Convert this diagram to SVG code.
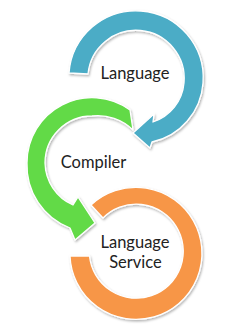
<svg xmlns="http://www.w3.org/2000/svg" width="245" height="331" viewBox="0 0 245 331">
  <defs>
    <filter id="sh" x="-20%" y="-20%" width="140%" height="140%">
      <feDropShadow dx="1" dy="1.5" stdDeviation="1.2" flood-color="#000" flood-opacity="0.3"/>
    </filter>
  </defs>
  <style>
    .ring { stroke: #ffffff; stroke-width: 1.3; stroke-linejoin: round; filter: url(#sh); }
    .blue { fill: #4BACC6; }
    .green { fill: #62DA47; }
    .orange { fill: #F79646; }
    .lbl { font-family: Lato, "Open Sans", "Liberation Sans", sans-serif; font-size: 16.5px; fill: #222222; text-anchor: middle; }
  </style>
  <rect width="245" height="331" fill="#ffffff"/>
  <g id="node-language-service">
    <path class="ring orange" d="M 91,205 A 66,66 0 1 1 70,256 L 89.5,256 A 47,47 0 1 0 103,218 Z"/>
    <text class="lbl" x="135" y="248">Language</text>
    <text class="lbl" x="135.5" y="268">Service</text>
  </g>
  <g id="node-compiler">
    <path class="ring green" d="M 130,110 A 65,65 0 0 0 27,163 A 67,67 0 0 0 70,228 L 75,240 L 95,223 L 78,197 L 73,205 A 47,47 0 0 1 45,163 A 47,47 0 0 1 92,116 A 50,50 0 0 1 133,130 Z"/>
    <text class="lbl" x="93.5" y="168">Compiler</text>
  </g>
  <g id="node-language">
    <path class="ring blue" d="M 69,73 A 67,67 0 0 1 203,83 A 65,65 0 0 1 152,142 L 150,148 L 133,133 L 154,114 L 153,122 A 45,45 0 0 0 184,83 A 48,48 0 0 0 88,74 Z"/>
    <text class="lbl" x="135" y="79">Language</text>
  </g>
  <g id="connectors"></g>
</svg>
